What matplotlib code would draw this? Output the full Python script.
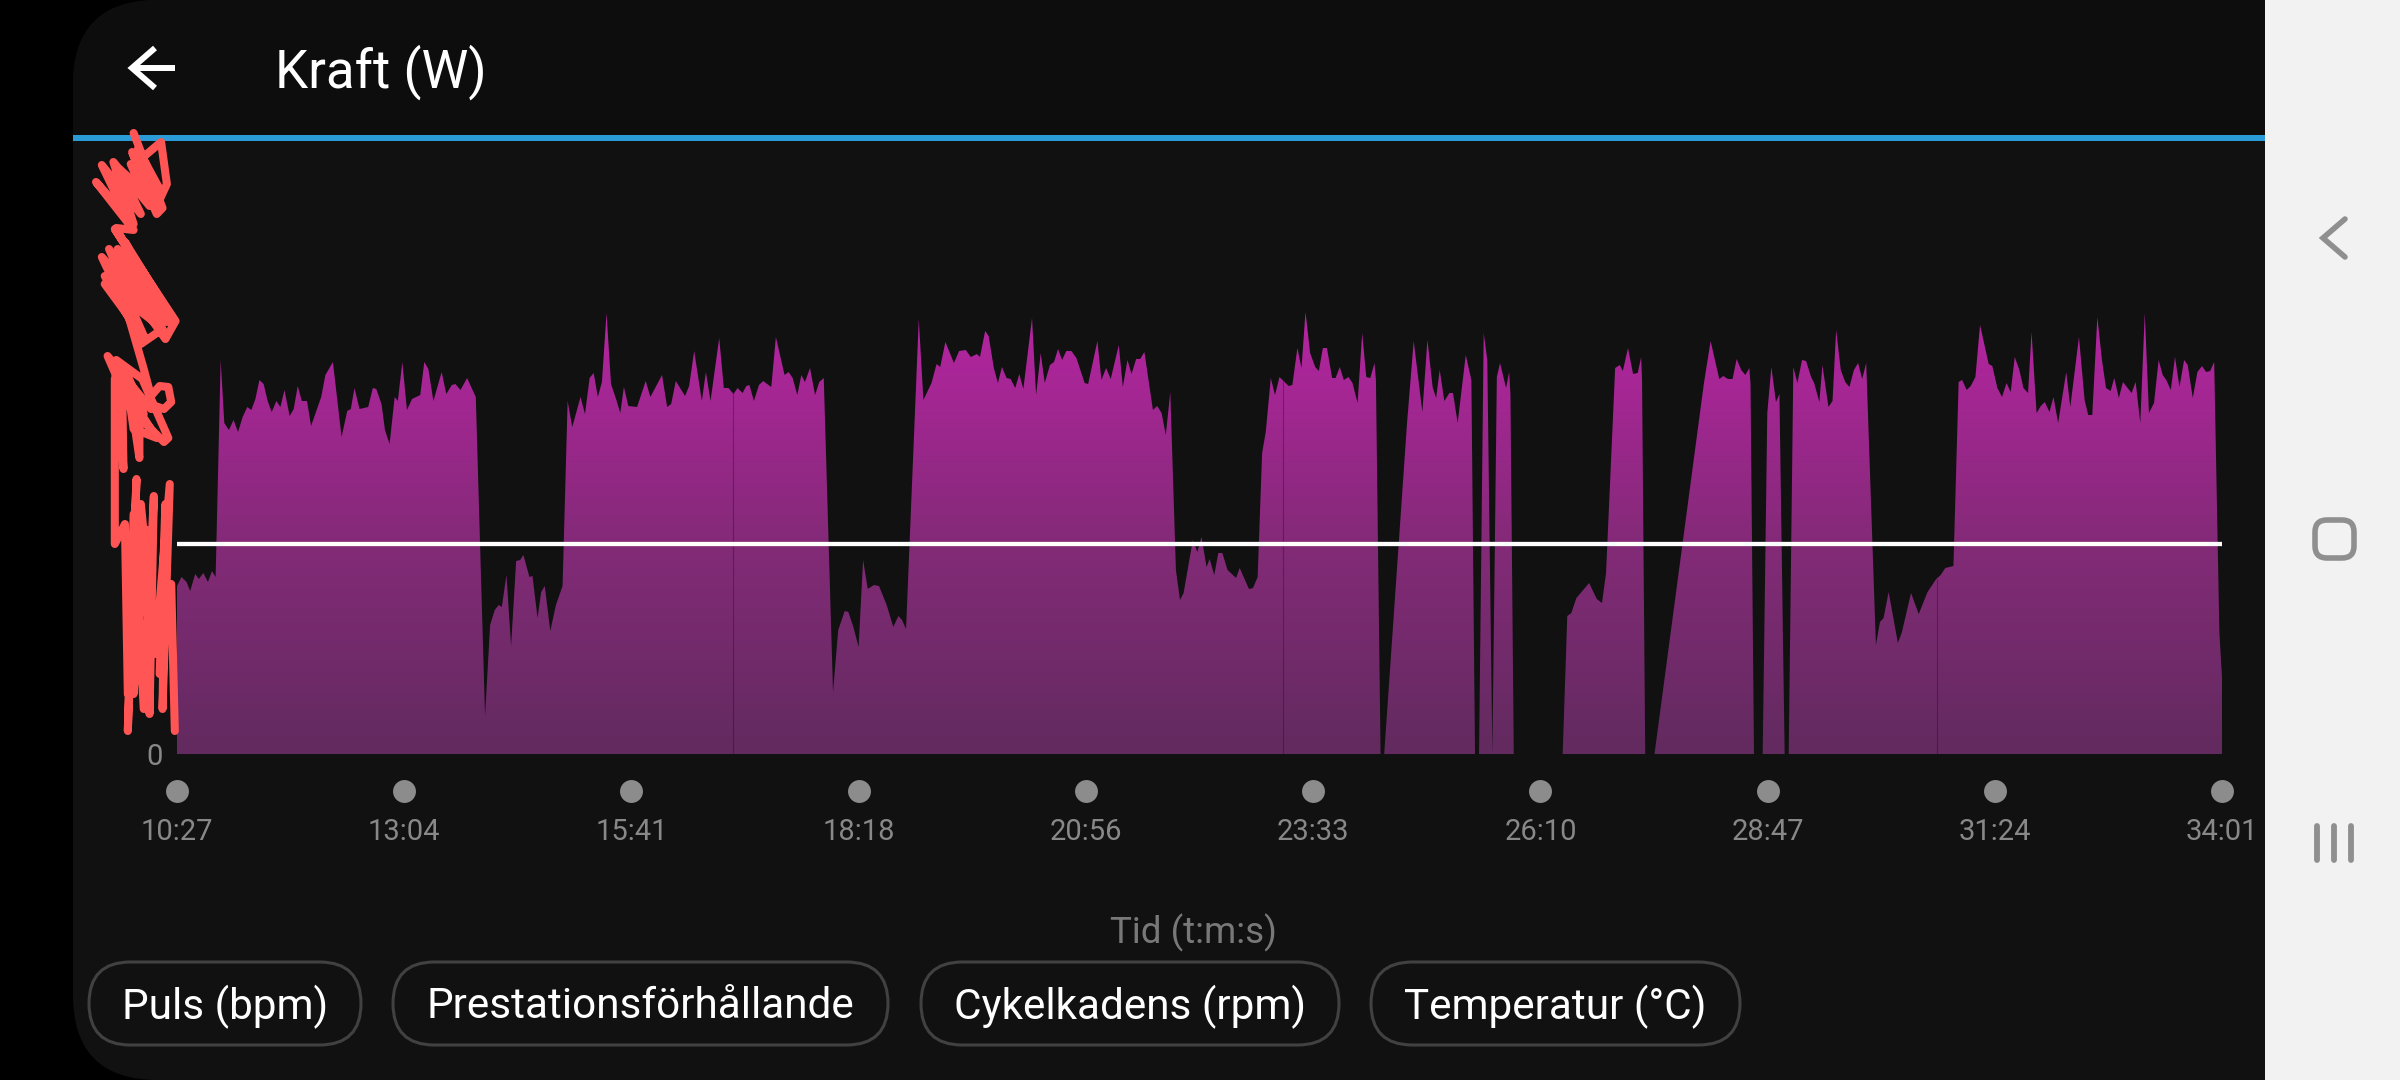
import matplotlib
matplotlib.use("Agg")
import matplotlib.pyplot as plt
import numpy as np
from matplotlib.colors import LinearSegmentedColormap
from matplotlib.patches import FancyBboxPatch, Rectangle

time_s = [0,0,3.1,6.6,9.1,12.6,15.1,18.2,21.4,24.2,26.7,30.2,32.7,35.9,39.1,42.2,45.4,48.6,51.4,54.2,57,59.9,62.7,65.5,68.7,71.5,74.3,77.9,80.7,83.5,86.3,89.9,92.7,99.7,102.6,107.8,113.8,117.7,120.2,122.7,126.2,132.2,135.4,137.8,141.4,143.8,147,150.5,152.7,155.8,159,162.5,168.2,171,173.8,177.3,183,186.2,190,192.5,196,200.6,206.6,
213,216.5,219.7,222.5,224.6,227.8,231,234.5,237.3,239.5,243.7,245.8,249.3,251.8,254.3,258.1,262,266.6,270.1,273.3,279,282.1,285.3,288.1,291,293.8,297,300.1,303.6,306.5,309,312.1,318.1,324.1,327.3,335.4,338.9,341.7,344.9,351.3,354.1,357.6,362.9,365.7,368.9,374.9,378.1,381.3,384.8,387.6,391.1,393.6,395.8,398.9,402.4,405.3,410.9,414.1,420.1,422.9,425.7,428.9,431.7,434.2,437.7,441.2,444.1,447.2,
453.6,457.2,461.7,464.2,467.7,471.3,474.4,477.6,481.9,485.4,490.7,495.3,498.8,501.3,504.1,512.9,516.1,521.7,525.2,527.7,531.3,537.2,540.8,545.4,548.9,553.1,555.2,558.8,561.2,564.8,567.6,570.4,573.6,576.4,579.6,582.4,585.2,591.2,594,597.2,600,603.6,606.4,609.2,612,614.9,618.4,621.9,627.6,630,636.4,639.2,642.4,645.6,651.2,654,657.2,660,663.2,666,668.9,674.8,677.7,680.8,683.7,686.8,690.7,693.5,696,702.4,705.5,708.4,711.9,714,717.2,720,722.8,726.4,732.3,734.8,741.2,744,747.2,750.3,752.8,756.3,759.2,762.3,768.7,771.2,774.7,777.5,780.3,783.5,787,789.5,792.3,795.1,798.7,801.1,804,806.8,810,812.8,816.3,819.5,822.3,825.1,828,829,
832.2,834.7,850.5,855.1,861.1,864.6,868.2,870.6,873.1,876.3,879.8,882.3,885.5,891.1,893.9,895,897.5,900.3,903.5,906,909.5,912.6,914.8,919,921.1,922,924.3,958.1,961.3,964.1,967.6,976.4,981.7,985.3,988.1,994.4,997.6,999.7,1003.3,1006.8,1010,1012.4,1013,1015.2,1021.6,1055.8,1060.4,1066.4,1069.2,1072.4,1075.6,1078.4,1081.6,1084.4,1087.2,1088,1090.4,1096.4,1099.6,1102.4,1105.6,1108,1111.6,1114.4,1117.6,1120.4,1123.6,1126.4,1129.9,1132,1135.6,1137.7,1141.9,1144.7,1147.2,1150.4,1153.5,1156.4,1159.5,1162.4,1165.2,1168,1174.7,1177.5,1180,1183.5,1189.9,1192.7,1199,1204.3,1210.4,1216.4,1219.5,1222.7,1228.3,1231.9,1234.3,1237.5,1240.3,1243.5,1246.7,1252.7,1255.2,1258.7,1261.9,1265,1267.9,1270.7,1273.9,1276.7,1279.9,1282.3,1285.8,1288.7,1291.5,1294.7,1297.5,1300.7,1306.3,1309.1,1315.1,1319,1321.5,1324.3,1327.8,1331,1333.8,1337,1339.5,1342.7,1345.5,1351.5,1354.3,1357.5,1360.6,1363.5,1367,1370.2,1373,1375.5,1378.6,1381.5,1384.6,1387.8,1390.3,1393.8,1397,1400.2,1403,1405.8,1408.6,1412.2,1414]

power_w = [168,168,177,172,163,180,175,181,172,183,177,394,331,324,334,322,337,347,344,355,374,370,353,342,353,347,364,338,345,368,353,353,328,357,379,392,317,343,345,366,345,347,366,365,350,324,310,357,353,392,344,355,359,392,385,353,382,360,369,370,364,376,357,
38,129,144,149,147,179,108,193,194,199,177,178,136,162,168,123,149,168,353,327,357,340,376,381,357,372,441,370,355,341,367,348,347,373,357,379,347,350,373,358,368,403,353,382,353,416,366,366,360,366,361,368,369,353,369,373,367,417,379,382,376,359,379,372,386,359,372,376,
62,124,143,142,127,107,194,165,169,168,149,127,138,134,125,435,354,371,390,387,412,391,403,404,397,400,397,423,418,386,371,387,376,375,366,380,365,436,359,401,371,389,392,405,394,403,403,396,371,370,413,374,386,375,409,367,394,380,395,395,402,344,348,341,319,362,184,154,161,214,202,217,187,195,179,201,201,184,176,186,165,166,177,301,322,376,359,377,368,369,406,386,442,401,387,383,406,406,376,376,387,374,377,371,351,421,377,376,391,374,
0,0,331,413,342,414,367,356,384,353,361,361,331,399,381,374,0,0,421,394,0,377,391,366,382,360,0,0,138,141,156,171,155,151,181,386,389,383,406,380,381,397,374,0,0,371,413,375,378,375,375,395,384,379,386,370,0,0,341,387,352,360,0,0,387,371,394,393,377,371,352,389,347,353,424,384,372,367,384,391,375,391,109,132,136,162,111,122,161,140,162,175,179,186,188,372,374,364,368,377,429,390,388,366,357,371,362,397,384,366,361,422,341,348,352,342,357,331,382,347,417,354,339,339,437,394,366,363,376,356,372,361,372,331,441,341,351,394,379,374,364,397,367,394,389,356,382,388,382,383,392,121,77]

tick_seconds = [0,157.1,314.2,471.3,628.4,785.6,942.7,1099.8,1256.9,1414]
tick_labels = ["10:27","13:04","15:41","18:18","20:56","23:33","26:10","28:47","31:24","34:01"]
average_w = 210
lap_seconds = [384.2,764.8,1216.7]
chip_labels = ["Puls (bpm)","Prestationsförhållande","Cykelkadens (rpm)","Temperatur (°C)"]

scribble_t = [-30,-10,-14,-29,-11,-7,-15,-31,-20,-40,-25,-52,-33,-45,-22,-27,-12,-32,-19,-44,-30,-56,-30,-42,-7,-36,-3.5,-43,-1,-8,-35,-52,-25,-50,-30,-47,-14,-50,-22,-45,-12,-41,-10,-25,-34,-28,-23,-18,-12,-6,-4,-9,-15,-18,-48,-32,-9,-6,-24,-42,-26,-26,-33,-23,-36,-30,-14,-27,-38,-37,-42,-43,-43,-36,-34,-28,-34,-30,-23,-16,-19,-22,-30,-25,-15,-5,-10,-8,-12,-4,-1.5]
scribble_w = [621,546,540,590,612,570,545,602,560,585,540,589,532,575,575,605,565,590,548,592,530,572,524,526,432,512,436,525,433,415,470,497,415,478,450,505,430,470,415,490,440,505,425,410,440,410,385,358,368,367,352,345,348,345,398,345,312,316,375,394,330,296,365,340,385,325,316,345,372,285,380,375,210,230,60,275,23,240,45,258,40,225,60,250,100,270,45,250,80,170,23]

FONT = "Roboto"
fig = plt.figure(figsize=(24, 10.8), dpi=100, facecolor="#000000")

# screen chrome, in pixels
ui = fig.add_axes([0, 0, 1, 1])
ui.set_xlim(0, 2400)
ui.set_ylim(1080, 0)
ui.axis("off")
ui.add_patch(FancyBboxPatch((73, 0), 2400, 1080, boxstyle="round,pad=0,rounding_size=85",
                            fc="#111111", ec="none", zorder=1))
ui.add_patch(FancyBboxPatch((73, 0), 2400, 400, boxstyle="round,pad=0,rounding_size=85",
                            fc="#0D0D0D", ec="none", zorder=2))
ui.add_patch(Rectangle((73, 137), 2400, 300, fc="#111111", ec="none", zorder=3))
ui.add_patch(Rectangle((73, 135), 2192, 6, fc="#2A9BD7", ec="none", zorder=4))
ui.add_patch(Rectangle((2265, 0), 135, 1080, fc="#F2F2F2", ec="none", zorder=5))

ui.plot([131, 175], [68, 68], color="white", lw=4.3, solid_capstyle="butt", zorder=6)
ui.plot([155, 132, 155], [48, 68, 88], color="white", lw=4.3, solid_capstyle="butt",
        solid_joinstyle="miter", zorder=6)
ui.text(275, 88, "Kraft (W)", color="white", fontsize=38, family=FONT, va="baseline", ha="left", zorder=6)

nav = "#8F8F8F"
ui.plot([2345, 2323, 2345], [219, 238, 257], color=nav, lw=4, solid_capstyle="round",
        solid_joinstyle="miter", zorder=6)
ui.add_patch(FancyBboxPatch((2315, 520), 39, 38, boxstyle="round,pad=0,rounding_size=12",
                            fc="none", ec=nav, lw=4, zorder=6))
for bx in (2317, 2334, 2351):
    ui.plot([bx, bx], [826, 860], color=nav, lw=4.2, solid_capstyle="round", zorder=6)

chip_x = [(89, 361), (393, 888), (921, 1339), (1371, 1740)]
for (x0, x1), label in zip(chip_x, chip_labels):
    ui.add_patch(FancyBboxPatch((x0, 962), x1 - x0, 83, boxstyle="round,pad=0,rounding_size=41.5",
                                fc="none", ec="#414141", lw=2.2, zorder=6))
    ui.text((x0 + x1) / 2, 1007, label, color="white", fontsize=30.4, family=FONT,
            ha="center", va="center", zorder=6)

# chart axes: x px 177..2222, baseline at px 754
ax = fig.add_axes([177 / 2400, (1080 - 754) / 1080, 2045 / 2400, 654 / 1080])
ax.patch.set_alpha(0)
for s in ax.spines.values():
    s.set_visible(False)

cmap = LinearSegmentedColormap.from_list("power", ["#622B5F", "#842A78", "#B2259F"])
area = ax.fill_between(time_s, 0, power_w, color="none", lw=0)
im = ax.imshow(np.linspace(0, 460 / 425, 256).reshape(-1, 1), origin="lower", cmap=cmap, vmin=0, vmax=1,
               aspect="auto", extent=[0, 1414, 0, 460], zorder=2, interpolation="bilinear")
im.set_clip_path(area.get_paths()[0], transform=ax.transData)
ax.set_xlim(0, 1414)
ax.set_ylim(0, 654)

lap_tops = np.interp(lap_seconds, time_s, power_w)
ax.vlines(lap_seconds, 0, lap_tops, color="black", alpha=0.28, lw=0.8, zorder=3)
ax.hlines(average_w, 0, 1414, color="white", lw=3.1, zorder=4)
ax.plot(tick_seconds, [-37] * len(tick_seconds), "o", ms=16.5, color="#8C8C8C", mec="none", clip_on=False, zorder=4)
ax.plot(scribble_t, scribble_w, color="#FF5555", lw=5.8, solid_capstyle="round", solid_joinstyle="round",
        clip_on=False, zorder=6)

ax.set_xticks(tick_seconds, tick_labels)
ax.set_yticks([0], ["0"])
ax.tick_params(axis="x", length=0, pad=46, labelsize=21, labelcolor="#888888")
ax.tick_params(axis="y", length=0, pad=10, labelsize=21, labelcolor="#888888")
for t in ax.get_xticklabels() + ax.get_yticklabels():
    t.set_family(FONT)
ax.set_xlabel("Tid (t:m:s)", color="#787878", fontsize=26.5, family=FONT)
ax.xaxis.set_label_coords((1193 - 177) / 2045, (754 - 933) / 654)
ax.xaxis.label.set_va("center")

fig.savefig("out.png", dpi=100, facecolor=fig.get_facecolor())
